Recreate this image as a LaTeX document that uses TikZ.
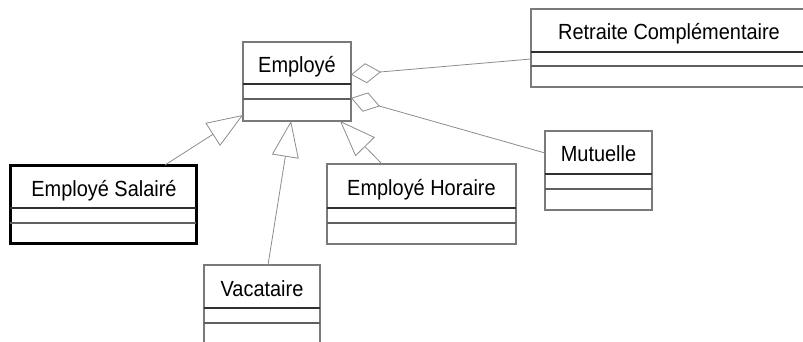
\documentclass[tikz,border=0pt]{standalone}
\usepackage{fontspec}
\setmainfont{Liberation Sans}
\newfontfamily\umlfont[FakeStretch=0.91]{Liberation Sans}
\usetikzlibrary{arrows.meta}
\definecolor{boxgray}{HTML}{7A7A7A}
\definecolor{divgray}{HTML}{303030}
\definecolor{divgrayb}{HTML}{606060}
\definecolor{linegray}{HTML}{8C8C8C}
\tikzset{
  classbox/.style={draw=boxgray, line width=1.1bp, rectangle, inner sep=0pt, outer sep=0pt, anchor=north west},
  heavybox/.style={draw=black, line width=3bp, rectangle, inner sep=0pt, outer sep=0pt, anchor=north west},
  divider/.style={draw=divgray, line width=1.1bp},
  dividerb/.style={draw=divgrayb, line width=1.1bp},
  label/.style={font=\umlfont\fontsize{22}{26}\selectfont, anchor=base, inner sep=0pt},
  gen/.style={draw=linegray, line width=0.8bp, -{Triangle[open, length=36bp, width=27bp]}},
  agg/.style={draw=linegray, line width=0.8bp, {Diamond[open, length=30bp, width=20bp]}-}
}
\begin{document}
\begin{tikzpicture}[x=1bp, y=-1bp]
\useasboundingbox (0,0) rectangle (803,341);
\clip (0,0) rectangle (803,341);
% classes
\node[classbox, minimum width=108bp, minimum height=79bp] (emp) at (243,42) {};
\node[label] (empT) at (297,72) {Employé};
\draw[divider] (243,84) -- (351,84);
\draw[dividerb] (243,99) -- (351,99);

\node[classbox, minimum width=276bp, minimum height=78bp] (ret) at (531,9) {};
\node[label] (retT) at (669,39) {Retraite Complémentaire};
\draw[divider] (531,52) -- (807,52);
\draw[dividerb] (531,66) -- (807,66);

\node[heavybox, minimum width=186bp, minimum height=78bp] (sal) at (10,165) {};
\node[label] (salT) at (104,196) {Employé Salairé};
\draw[divider] (10,208) -- (196,208);
\draw[dividerb] (10,223) -- (196,223);

\node[classbox, minimum width=189bp, minimum height=80bp] (hor) at (327,164) {};
\node[label] (horT) at (421.5,195) {Employé Horaire};
\draw[divider] (327,208) -- (516,208);
\draw[dividerb] (327,223) -- (516,223);

\node[classbox, minimum width=107bp, minimum height=79bp] (mut) at (545,131) {};
\node[label] (mutT) at (598.5,161) {Mutuelle};
\draw[divider] (545,174) -- (652,174);
\draw[dividerb] (545,189) -- (652,189);

\node[classbox, minimum width=116bp, minimum height=90bp] (vac) at (204,265) {};
\node[label] (vacT) at (262,296) {Vacataire};
\draw[divider] (204,308) -- (320,308);
\draw[dividerb] (204,323) -- (320,323);

% connector end points
\coordinate (salTop) at (165,165);
\coordinate (empSal) at (243,115);
\coordinate (vacTop) at (268,265);
\coordinate (empVac) at (291,121);
\coordinate (horTop) at (382,164);
\coordinate (empHor) at (340,121);
\coordinate (empRet) at (351,74.5);
\coordinate (retIn) at (531,59);
\coordinate (empMut) at (351,98);
\coordinate (mutIn) at (545,153);

% generalisations
\draw[gen] (salTop) -- (empSal);
\draw[gen] (vacTop) -- (empVac);
\draw[gen] (horTop) -- (empHor);
% aggregations
\draw[agg] (empRet) -- (retIn);
\draw[agg] (empMut) -- (mutIn);
\end{tikzpicture}
\end{document}
